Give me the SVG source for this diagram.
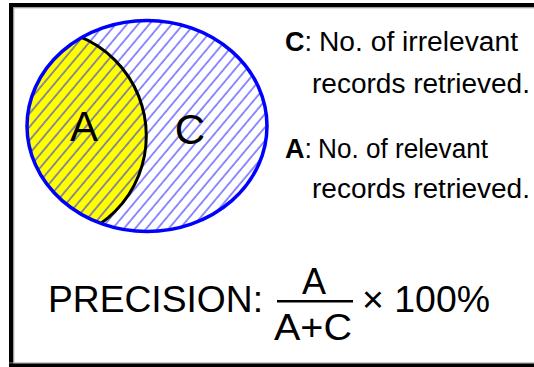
<svg xmlns="http://www.w3.org/2000/svg" width="534" height="367" viewBox="0 0 534 367">
  <style>
    .txt { font-family: "Liberation Sans", Arial, sans-serif; fill: #000; }
    .lbl { font-size: 27px; }
    .big { font-size: 36px; }
    .venn { font-size: 42px; }
  </style>
  <defs>
    <pattern id="hatch" patternUnits="userSpaceOnUse" width="8.6" height="8.6" patternTransform="rotate(40)">
      <line x1="1" y1="-1" x2="1" y2="10" stroke="#3030ff" stroke-width="1.1"/>
    </pattern>
    <clipPath id="ellClip">
      <ellipse cx="147" cy="126" rx="120" ry="105.5"/>
    </clipPath>
  </defs>
  <rect x="0" y="0" width="534" height="367" fill="#fff"/>
  <g id="frame">
    <rect x="9" y="3" width="525" height="4.3" fill="#000"/>
    <rect x="9" y="3" width="4.3" height="363" fill="#000"/>
    <rect x="13.3" y="7.3" width="521" height="1" fill="#999"/>
    <rect x="13.3" y="7.3" width="1" height="356" fill="#999"/>
    <rect x="9" y="362.5" width="525" height="1" fill="#999"/>
    <rect x="9" y="363.5" width="525" height="3.5" fill="#000"/>
  </g>
  <g id="venn">
    <g id="setA" clip-path="url(#ellClip)">
      <circle cx="39.2" cy="135.8" r="107.1" fill="#ffff00"/>
    </g>
    <ellipse cx="147" cy="126" rx="120" ry="105.5" fill="url(#hatch)"/>
    <g clip-path="url(#ellClip)">
      <circle cx="39.2" cy="135.8" r="107.1" fill="none" stroke="#000" stroke-width="3"/>
    </g>
    <ellipse id="setC" cx="147" cy="126" rx="120" ry="105.5" fill="none" stroke="#0000ff" stroke-width="3.5"/>
    <text class="txt venn" x="84" y="141" text-anchor="middle">A</text>
    <text class="txt venn" x="190" y="144" text-anchor="middle">C</text>
  </g>
  <g id="legend">
    <text class="txt lbl" x="285" y="51"><tspan font-weight="bold">C</tspan>:</text>
    <text class="txt lbl" x="319" y="51" textLength="199" lengthAdjust="spacingAndGlyphs">No. of irrelevant</text>
    <text class="txt lbl" x="312" y="93" textLength="218" lengthAdjust="spacingAndGlyphs">records retrieved.</text>
    <text class="txt lbl" x="285" y="158"><tspan font-weight="bold">A</tspan>:</text>
    <text class="txt lbl" x="318" y="158" textLength="170" lengthAdjust="spacingAndGlyphs">No. of relevant</text>
    <text class="txt lbl" x="312" y="198" textLength="218" lengthAdjust="spacingAndGlyphs">records retrieved.</text>
  </g>
  <g id="formula">
    <text class="txt big" x="48" y="312" textLength="215" lengthAdjust="spacingAndGlyphs">PRECISION:</text>
    <text class="txt big" x="314" y="294" text-anchor="middle">A</text>
    <rect x="277" y="300" width="76" height="2.5" fill="#000"/>
    <text class="txt big" x="313" y="340" text-anchor="middle" textLength="78" lengthAdjust="spacingAndGlyphs">A+C</text>
    <text class="txt big" x="362" y="312" textLength="128" lengthAdjust="spacingAndGlyphs">× 100%</text>
  </g>
</svg>
